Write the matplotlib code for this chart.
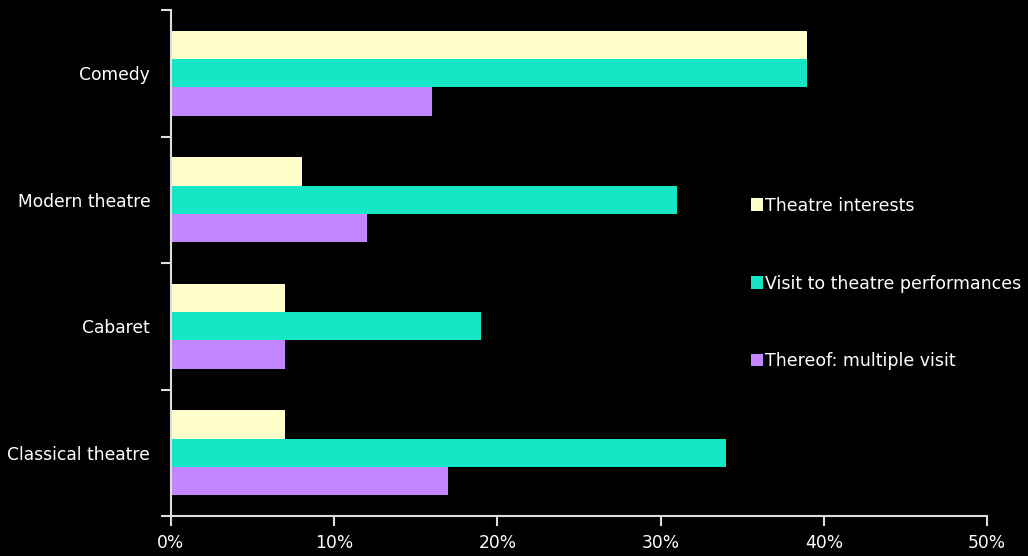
import matplotlib
matplotlib.use("Agg")
import matplotlib.pyplot as plt
import numpy as np
from matplotlib.patches import Patch

categories = ["Comedy", "Modern theatre", "Cabaret", "Classical theatre"]
theatre_interests = [39, 8, 7, 7]
theatre_visits = [39, 31, 19, 34]
multiple_visits = [16, 12, 7, 17]

series_names = [
    "Theatre interests",
    "Visit to theatre performances",
    "Thereof: multiple visit",
]
series_colors = ["#FFFFCC", "#14E6C6", "#C286FF"]
series_values = [theatre_interests, theatre_visits, multiple_visits]

plt.rcParams["font.family"] = ["DejaVu Sans"]

fig = plt.figure(figsize=(10.28, 5.56), dpi=100, facecolor="black")
ax = fig.add_axes([171 / 1028, 1 - 516 / 556, (987 - 171) / 1028, (516 - 10) / 556])
ax.set_facecolor("black")

positions = np.arange(len(categories))
bar_height = 0.225
for index, (values, color) in enumerate(zip(series_values, series_colors)):
    offsets = positions + (index - 1) * bar_height
    ax.barh(offsets, values, height=bar_height, color=color, label=series_names[index])

ax.set_ylim(len(categories) - 0.5, -0.5)
ax.set_xlim(0, 50)
ax.set_xticks(np.arange(0, 51, 10))
ax.set_xticklabels([f"{v}%" for v in range(0, 51, 10)])
ax.set_yticks(positions)
ax.set_yticklabels(categories)
ax.set_yticks(np.arange(-0.5, len(categories), 1), minor=True)

ax.tick_params(axis="y", which="major", length=0, pad=15, colors="white", labelsize=12.3)
ax.tick_params(axis="y", which="minor", length=7, width=1.5, color="#dddddd", direction="out")
ax.tick_params(axis="x", length=7, width=1.5, color="#dddddd", direction="out",
               colors="white", labelsize=12.3, pad=6)
for label in ax.get_xticklabels():
    label.set_color("white")
for label in ax.get_yticklabels():
    label.set_color("white")

for side in ["top", "right"]:
    ax.spines[side].set_visible(False)
for side in ["left", "bottom"]:
    ax.spines[side].set_color("#dddddd")
    ax.spines[side].set_linewidth(1.5)

handles = [Patch(facecolor=c, edgecolor="none") for c in series_colors]
legend = ax.legend(
    handles,
    series_names,
    loc="upper left",
    bbox_to_anchor=(735 / 1028, 1 - 181 / 556),
    bbox_transform=fig.transFigure,
    frameon=False,
    handlelength=0.7,
    handleheight=0.7,
    handletextpad=0.15,
    labelspacing=3.45,
    fontsize=12.5,
)
for text in legend.get_texts():
    text.set_color("white")

fig.savefig("out.png", dpi=100, facecolor="black")
